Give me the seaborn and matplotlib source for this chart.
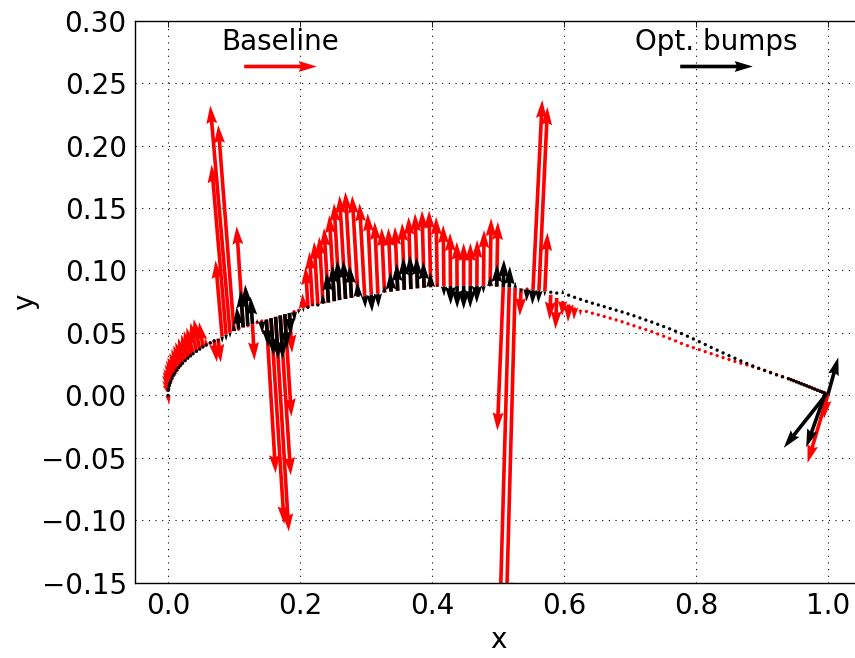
import matplotlib
matplotlib.use("Agg")
import matplotlib.pyplot as plt
import seaborn as sns

# Upper-surface sample stations (chordwise x) shared by both designs
x_surf = [
    # leading edge
    0.0, 0.0005, 0.001, 0.002, 0.003, 0.004, 0.006, 0.008, 0.010, 0.013,
    0.016, 0.019, 0.022, 0.026, 0.030, 0.034, 0.038, 0.043, 0.048, 0.053, 0.058,
    # forward section
    0.064, 0.070, 0.076, 0.082, 0.088, 0.094, 0.100, 0.107, 0.114, 0.121,
    0.128, 0.135, 0.142, 0.149, 0.156, 0.163, 0.170, 0.177, 0.184, 0.191, 0.198,
    # mid chord
    0.205, 0.212, 0.219, 0.227, 0.235, 0.243, 0.252, 0.260, 0.269, 0.278,
    0.288, 0.298, 0.308, 0.318, 0.328, 0.338, 0.348, 0.358, 0.368, 0.378,
    0.388, 0.398, 0.408, 0.418, 0.428, 0.438, 0.448, 0.458, 0.468, 0.478,
    0.488, 0.498, 0.508, 0.517, 0.526, 0.535, 0.544, 0.553, 0.562, 0.571,
    0.580, 0.589, 0.598,
    # aft section
    0.607, 0.616, 0.625, 0.634, 0.643, 0.652, 0.661, 0.670, 0.679, 0.688,
    0.697, 0.706, 0.715, 0.724, 0.733, 0.742, 0.751, 0.760, 0.769, 0.778,
    0.787, 0.796, 0.805, 0.814, 0.823, 0.832, 0.841, 0.850, 0.859, 0.868,
    0.877, 0.886, 0.895, 0.904, 0.913, 0.922, 0.931, 0.940,
    # trailing edge
    0.944, 0.948, 0.952, 0.956, 0.960, 0.964, 0.968, 0.972, 0.976, 0.980,
    0.984, 0.988, 0.991, 0.994, 0.996, 0.998, 1.000,
]

# Surface height of the baseline section
y_base = [
    0.0, 0.0040, 0.0056, 0.0079, 0.0097, 0.0112, 0.0137, 0.0158, 0.0176, 0.0200,
    0.0221, 0.0240, 0.0257, 0.0278, 0.0298, 0.0316, 0.0333, 0.0352, 0.0370, 0.0387, 0.0402,
    0.0420, 0.0437, 0.0454, 0.0470, 0.0486, 0.0501, 0.0515, 0.0530, 0.0544, 0.0557,
    0.0570, 0.0583, 0.0595, 0.0607, 0.0618, 0.0629, 0.0640, 0.0650, 0.0660, 0.0670, 0.0680,
    0.0695, 0.0705, 0.0714, 0.0724, 0.0734, 0.0743, 0.0754, 0.0763, 0.0772, 0.0781,
    0.0790, 0.0799, 0.0807, 0.0815, 0.0823, 0.0831, 0.0838, 0.0845, 0.0851, 0.0857,
    0.0862, 0.0866, 0.0870, 0.0873, 0.0875, 0.0877, 0.0878, 0.0878, 0.0877, 0.0876,
    0.0874, 0.0871, 0.0868, 0.0864, 0.0860, 0.0856, 0.0851, 0.0845, 0.0839, 0.0833,
    0.0805, 0.0780, 0.0755,
    0.0728, 0.0705, 0.0687, 0.0672, 0.0658, 0.0645, 0.0632, 0.0618, 0.0604, 0.0589,
    0.0573, 0.0557, 0.0541, 0.0526, 0.0510, 0.0492, 0.0474, 0.0455, 0.0436, 0.0416,
    0.0398, 0.0382, 0.0366, 0.0350, 0.0334, 0.0318, 0.0302, 0.0287, 0.0272, 0.0257,
    0.0243, 0.0229, 0.0215, 0.0201, 0.0185, 0.0168, 0.0152, 0.0135,
    0.0127, 0.0119, 0.0110, 0.0102, 0.0094, 0.0085, 0.0077, 0.0068, 0.0060, 0.0051,
    0.0042, 0.0034, 0.0028, 0.0022, 0.0017, 0.0013, 0.0009,
]

# Surface height of the section with optimised bumps
y_opt = [
    0.0, 0.0040, 0.0056, 0.0079, 0.0097, 0.0112, 0.0137, 0.0158, 0.0176, 0.0200,
    0.0221, 0.0240, 0.0257, 0.0278, 0.0298, 0.0316, 0.0333, 0.0352, 0.0370, 0.0387, 0.0402,
    0.0420, 0.0437, 0.0454, 0.0470, 0.0486, 0.0501, 0.0515, 0.0530, 0.0544, 0.0557,
    0.0570, 0.0583, 0.0595, 0.0607, 0.0618, 0.0629, 0.0640, 0.0650, 0.0660, 0.0670, 0.0680,
    0.0695, 0.0705, 0.0714, 0.0724, 0.0734, 0.0743, 0.0754, 0.0763, 0.0772, 0.0781,
    0.0790, 0.0799, 0.0807, 0.0815, 0.0823, 0.0831, 0.0838, 0.0845, 0.0851, 0.0857,
    0.0862, 0.0866, 0.0870, 0.0873, 0.0875, 0.0877, 0.0878, 0.0878, 0.0877, 0.0876,
    0.0874, 0.0871, 0.0868, 0.0864, 0.0860, 0.0856, 0.0851, 0.0845, 0.0839, 0.0833,
    0.0826, 0.0819, 0.0811,
    0.0802, 0.0785, 0.0769, 0.0753, 0.0738, 0.0724, 0.0710, 0.0696, 0.0682, 0.0668,
    0.0653, 0.0637, 0.0620, 0.0603, 0.0587, 0.0569, 0.0551, 0.0533, 0.0514, 0.0495,
    0.0474, 0.0452, 0.0430, 0.0407, 0.0384, 0.0362, 0.0340, 0.0318, 0.0297, 0.0276,
    0.0256, 0.0236, 0.0217, 0.0199, 0.0181, 0.0164, 0.0148, 0.0133,
    0.0125, 0.0117, 0.0108, 0.0100, 0.0092, 0.0084, 0.0075, 0.0067, 0.0058, 0.0050,
    0.0041, 0.0033, 0.0027, 0.0021, 0.0016, 0.0012, 0.0008,
]

# Baseline sensitivity vectors (x and y components)
u_base = [
    0.002, -0.009, -0.010, -0.011, -0.011, -0.011, -0.011, -0.011, -0.011, -0.011,
    -0.011, -0.011, -0.011, -0.011, -0.010, -0.010, -0.010, -0.009, -0.009, -0.006, -0.002,
    0.0, 0.004, 0.004, -0.010, -0.022, -0.030, -0.024, 0.0, -0.010, 0.0,
    0.003, 0.0, 0.0, 0.014, 0.020, 0.020, 0.016, 0.010, 0.004, 0.0, 0.0,
    -0.0013, -0.0036, -0.0048, -0.0056, -0.0059, -0.0066, -0.0076, -0.0085, -0.0091, -0.0093,
    -0.0089, -0.0078, -0.0055, -0.0049, -0.0044, -0.0041, -0.0041, -0.0032, -0.0035, -0.0036,
    -0.0031, -0.0025, -0.0017, -0.0010, -0.0006, -0.0004, 0.0, 0.0002, 0.0004, 0.0009,
    0.0016, 0.0018, -0.009, -0.014, -0.013, -0.002, 0.0, 0.014, 0.013, 0.004,
    -0.002, -0.002, -0.001,
    -0.001, -0.001, -0.0005, 0.0, 0.0, 0.0, 0.0, 0.0, 0.0, 0.0,
    0.0, 0.0, 0.0, 0.0, 0.0, 0.0, 0.0, 0.0, 0.0, 0.0,
    0.0, 0.0, 0.0, 0.0, 0.0, 0.0, 0.0, 0.0, 0.0, 0.0,
    0.0, 0.0, 0.0, 0.0, 0.0, 0.0, 0.0, 0.0,
    0.0, 0.0, 0.0, 0.0, 0.0, 0.0, 0.0, 0.0, 0.0, 0.0,
    0.0, 0.0, 0.0, 0.0, 0.0, -0.004, -0.031,
]
v_base = [
    -0.007, 0.004, 0.006, 0.008, 0.009, 0.010, 0.011, 0.012, 0.013, 0.014,
    0.015, 0.016, 0.017, 0.018, 0.019, 0.020, 0.021, 0.023, 0.024, 0.020, 0.006,
    0.0, -0.017, -0.019, 0.061, 0.136, 0.182, 0.165, 0.0, 0.081, 0.0,
    -0.029, 0.0, 0.0, -0.123, -0.165, -0.172, -0.128, -0.082, -0.032, 0.0, 0.0,
    0.0122, 0.0325, 0.0436, 0.0506, 0.0536, 0.0597, 0.0690, 0.0775, 0.0828, 0.0849,
    0.0810, 0.0739, 0.0651, 0.0575, 0.0517, 0.0509, 0.0512, 0.0535, 0.0579, 0.0601,
    0.0618, 0.0614, 0.0560, 0.0491, 0.0425, 0.0353, 0.0342, 0.0342, 0.0367, 0.0448,
    0.0544, 0.0519, -0.115, -0.260, -0.250, -0.022, 0.0, 0.152, 0.147, 0.047,
    -0.020, -0.025, -0.012,
    -0.014, -0.010, -0.005, 0.0, 0.0, 0.0, 0.0, 0.0, 0.0, 0.0,
    0.0, 0.0, 0.0, 0.0, 0.0, 0.0, 0.0, 0.0, 0.0, 0.0,
    0.0, 0.0, 0.0, 0.0, 0.0, 0.0, 0.0, 0.0, 0.0, 0.0,
    0.0, 0.0, 0.0, 0.0, 0.0, 0.0, 0.0, 0.0,
    0.0, 0.0, 0.0, 0.0, 0.0, 0.0, 0.0, 0.0, 0.0, 0.0,
    0.0, 0.0, 0.0, 0.0, 0.0, -0.020, -0.055,
]

# Sensitivity vectors of the bump-optimised section
u_opt = [
    0.0, 0.0, 0.0, 0.0, 0.0, 0.0, 0.0, 0.0, 0.0, 0.0,
    0.0, 0.0, 0.0, 0.0, 0.0, 0.0, 0.0, 0.0, 0.0, 0.0, 0.0,
    0.0, 0.0, 0.0, 0.0, 0.0, 0.0, -0.001, -0.003, -0.004, -0.004,
    -0.003, 0.0, 0.001, 0.003, 0.004, 0.004, 0.004, 0.003, 0.002, 0.001, 0.0,
    0.0003, 0.0, -0.0003, 0.0, -0.0009, -0.0026, -0.0032, -0.0035, -0.0034, -0.0029,
    -0.0013, 0.0010, 0.0012, 0.0009, -0.0005, -0.0013, -0.0017, -0.0016, -0.0016, -0.0015,
    -0.0013, -0.0007, -0.0001, 0.0002, 0.0003, 0.0002, 0.0, -0.0001, -0.0002, -0.0001,
    0.0002, 0.0007, 0.0010, 0.0010, 0.0003, -0.0003, -0.0007, -0.0010, -0.0009, -0.0004,
    0.0, 0.0, 0.0004,
    0.0, 0.0, 0.0, 0.0, 0.0, 0.0, 0.0, 0.0, 0.0, 0.0,
    0.0, 0.0, 0.0, 0.0, 0.0, 0.0, 0.0, 0.0, 0.0, 0.0,
    0.0, 0.0, 0.0, 0.0, 0.0, 0.0, 0.0, 0.0, 0.0, 0.0,
    0.0, 0.0, 0.0, 0.0, 0.0, 0.0, 0.0, 0.0,
    0.0, 0.0, 0.0, 0.0, 0.0, 0.0, 0.0, 0.0, 0.0, 0.0,
    0.0, 0.0, 0.0, 0.0, -0.029, -0.065, 0.0156,
]
v_opt = [
    0.0, 0.0, 0.0, 0.0, 0.0, 0.0, 0.0, 0.0, 0.0, 0.0,
    0.0, 0.0, 0.0, 0.0, 0.0, 0.0, 0.0, 0.0, 0.0, 0.0, 0.0,
    0.0, 0.0, -0.004, -0.005, -0.005, -0.004, 0.006, 0.018, 0.030, 0.033,
    0.022, 0.003, -0.010, -0.022, -0.030, -0.034, -0.035, -0.028, -0.018, -0.008, -0.003,
    -0.003, 0.0, 0.003, 0.0, 0.008, 0.024, 0.029, 0.032, 0.031, 0.026,
    0.012, -0.010, -0.014, -0.011, 0.006, 0.016, 0.022, 0.026, 0.027, 0.025,
    0.021, 0.012, 0.003, -0.008, -0.015, -0.018, -0.019, -0.018, -0.014, -0.006,
    0.008, 0.018, 0.022, 0.017, 0.005, -0.004, -0.010, -0.012, -0.010, -0.004,
    0.0, 0.0, 0.004,
    0.0, 0.0, 0.0, 0.0, 0.0, 0.0, 0.0, 0.0, 0.0, 0.0,
    0.0, 0.0, 0.0, 0.0, 0.0, 0.0, 0.0, 0.0, 0.0, 0.0,
    0.0, 0.0, 0.0, 0.0, 0.0, 0.0, 0.0, 0.0, 0.0, 0.0,
    0.0, 0.0, 0.0, 0.0, 0.0, 0.0, 0.0, 0.0,
    0.0, 0.0, 0.0, 0.0, 0.0, 0.0, 0.0, 0.0, 0.0, 0.0,
    0.0, 0.0, 0.0, 0.0, -0.0432, -0.0432, 0.0297,
]

x_ticks = [0.0, 0.2, 0.4, 0.6, 0.8, 1.0]
y_ticks = [-0.15, -0.10, -0.05, 0.00, 0.05, 0.10, 0.15, 0.20, 0.25, 0.30]
key_length = 0.11

sns.set_style("white")
plt.rcParams.update({
    "font.family": ["DejaVu Sans"],
    "font.size": 20,
    "text.color": "black",
    "axes.labelcolor": "black",
    "axes.linewidth": 1.0,
    "axes.edgecolor": "black",
    "xtick.direction": "in",
    "ytick.direction": "in",
    "xtick.top": True,
    "ytick.right": True,
    "xtick.major.size": 4,
    "ytick.major.size": 4,
    "xtick.major.width": 0.6,
    "ytick.major.width": 0.6,
    "xtick.color": "black",
    "ytick.color": "black",
    "xtick.labelcolor": "black",
    "ytick.labelcolor": "black",
    "xtick.major.pad": 7,
    "ytick.major.pad": 6,
})

fig = plt.figure(figsize=(8.55, 6.58), dpi=100)
ax = fig.add_axes([135 / 855, (658 - 582.7) / 658, 726 / 855, 562 / 658])

quiver_kw = dict(angles="xy", scale_units="xy", scale=1, width=0.005)
q_base = ax.quiver(x_surf, y_base, u_base, v_base, color="red", zorder=2, **quiver_kw)
q_opt = ax.quiver(x_surf, y_opt, u_opt, v_opt, color="black", zorder=3, **quiver_kw)

ax.quiverkey(q_base, 0.2, 0.92, key_length, "Baseline", labelpos="N",
             coordinates="axes", labelcolor="black", fontproperties={"size": 20})
ax.quiverkey(q_opt, 0.8, 0.92, key_length, "Opt. bumps", labelpos="N",
             coordinates="axes", labelcolor="black", fontproperties={"size": 20})

ax.set_xlim(-0.05, 1.05)
ax.set_ylim(-0.15, 0.30)
ax.set_xticks(x_ticks)
ax.set_yticks(y_ticks)
ax.set_xticklabels([f"{t:.1f}" for t in x_ticks])
ax.set_yticklabels([f"{t:.2f}".replace("-", "\u2212") for t in y_ticks])
ax.grid(True, color="black", linestyle=(0, (1, 5)), linewidth=0.8)
ax.set_axisbelow(True)
ax.set_xlabel("x", fontsize=20, labelpad=4)
ax.set_ylabel("y", fontsize=20, labelpad=2)

fig.savefig("out.png", dpi=100, facecolor="white")
